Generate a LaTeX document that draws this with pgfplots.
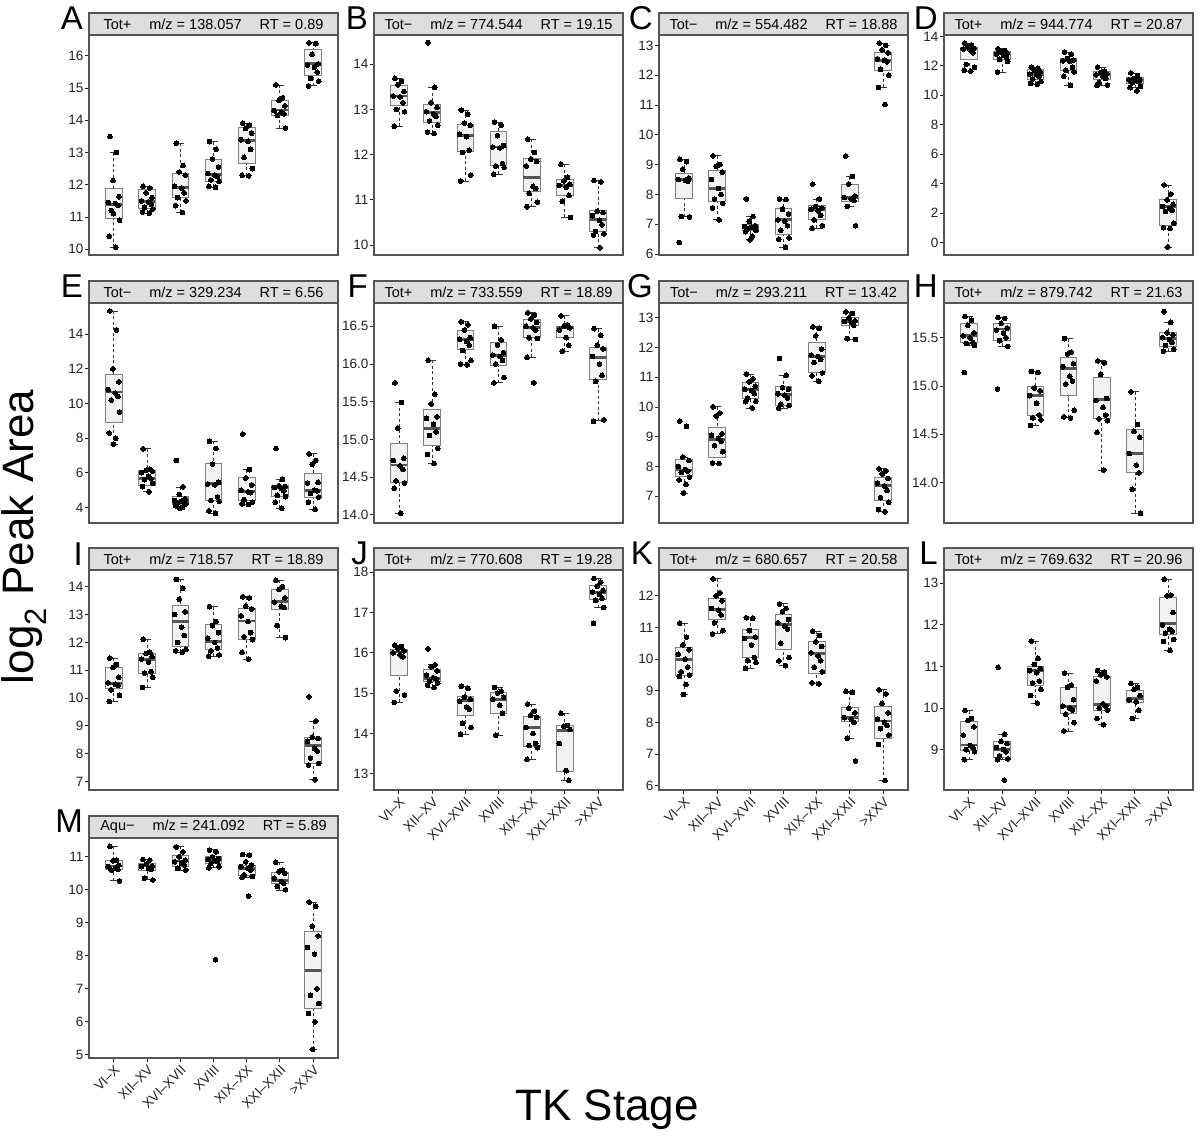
\documentclass[border=0pt]{standalone}
\usepackage{fontspec}
\setmainfont{Liberation Sans}
\usepackage{pgfplots}
\pgfplotsset{compat=1.18}
\usepgfplotslibrary{statistics}

\definecolor{stripfill}{HTML}{DEDEDE}
\definecolor{framecol}{HTML}{555555}
\definecolor{boxfill}{HTML}{F2F2F2}
\definecolor{boxline}{HTML}{808080}
\definecolor{medcol}{HTML}{555555}
\definecolor{wskcol}{HTML}{333333}
\definecolor{tickcol}{HTML}{222222}

\newcommand\tickfont{\fontsize{13.5}{16}\selectfont}
\newcommand\hdrfont{\fontsize{14.5}{17}\selectfont}
\newcommand\letfont{\fontsize{33}{38}\selectfont}
\newcommand\bigfont{\fontsize{44}{50}\selectfont}

\tikzset{
  wskline/.style={draw=wskcol, line width=0.8pt, dash pattern=on 3pt off 2.5pt},
  wskcap/.style={draw=wskcol, line width=0.8pt, solid},
}

\pgfplotsset{
  boxplot/draw direction=y,
  boxplot/box extend=0.5,
  boxplot/whisker extend=0.25,
  boxplot/every box/.style={draw=boxline, fill=boxfill, line width=0.9pt},
  boxplot/every median/.style={draw=medcol, line width=2.8pt},
  boxplot/draw/lower whisker/.code={%
    \draw[wskline] (boxplot box cs:\pgfplotsboxplotvalue{lower whisker},0.5) -- (boxplot box cs:\pgfplotsboxplotvalue{lower quartile},0.5);
    \draw[wskcap] (boxplot whisker cs:\pgfplotsboxplotvalue{lower whisker},0) -- (boxplot whisker cs:\pgfplotsboxplotvalue{lower whisker},1);
  },
  boxplot/draw/upper whisker/.code={%
    \draw[wskline] (boxplot box cs:\pgfplotsboxplotvalue{upper whisker},0.5) -- (boxplot box cs:\pgfplotsboxplotvalue{upper quartile},0.5);
    \draw[wskcap] (boxplot whisker cs:\pgfplotsboxplotvalue{upper whisker},0) -- (boxplot whisker cs:\pgfplotsboxplotvalue{upper whisker},1);
  },
  bxs/.style={solid, draw=boxline},
  pts/.style={only marks, mark=*, mark size=2.4pt, mark options={fill=black, draw=black, line width=0pt}},
  panel/.style={
    scale only axis, width=249pt, height=220pt,
    anchor=south west, clip=false,
    xmin=0.25, xmax=7.75, xtick=\empty,
    tick align=outside, tick pos=left,
    major tick length=4pt,
    every tick/.style={draw=tickcol, line width=0.9pt},
    axis line style={draw=framecol, line width=1.3pt},
    yticklabel style={font=\tickfont, text=tickcol, inner sep=1.5pt},
    /pgf/number format/assume math mode=true,
  },
  bottomx/.style={
    xtick={1,...,7},
    xticklabels={VI–X,XII–XV,XVI–XVII,XVIII,XIX–XX,XXI–XXII,>XXV},
    xticklabel style={rotate=45, anchor=north east, font=\tickfont, text=tickcol, inner sep=1.5pt},
  },
}

\newcommand\bx[6]{\addplot[bxs, boxplot prepared={draw position=#1, lower whisker=#2, lower quartile=#3, median=#4, upper quartile=#5, upper whisker=#6}] coordinates {};}

\newcommand\hdr[4]{%
  \draw[fill=stripfill, draw=framecol, line width=1.3pt] (rel axis cs:0,1) rectangle ([yshift=22pt]rel axis cs:1,1);
  \node[font=\hdrfont, inner sep=0pt] at ([yshift=11pt]rel axis cs:0.5,1) {#2\hspace{18pt}m/z = #3\hspace{18pt}RT = #4};
  \node[font=\letfont, anchor=base east, inner sep=0pt] at ([xshift=-6pt,yshift=5pt]rel axis cs:0,1) {#1};
}

\begin{document}
\begin{tikzpicture}
\useasboundingbox (0pt,0pt) rectangle (1200pt,1136pt);

% ---------------- A ----------------
\begin{axis}[panel, at={(89pt,881pt)}, ymin=9.82, ymax=16.65, ytick={10,...,16}]
\bx{1}{10.06}{10.96}{11.38}{11.89}{13.0}
\bx{2}{11.12}{11.27}{11.47}{11.86}{11.95}
\bx{3}{11.14}{11.60}{11.91}{12.36}{13.29}
\bx{4}{11.92}{12.11}{12.31}{12.79}{13.34}
\bx{5}{12.28}{12.67}{13.37}{13.78}{13.91}
\bx{6}{13.76}{14.15}{14.32}{14.63}{15.1}
\bx{7}{15.07}{15.38}{15.77}{16.21}{16.41}
\addplot[pts] coordinates {(0.88,13.5)(1.08,13.0)(0.97,12.13)(1.15,11.63)(0.83,11.45)(1.04,11.42)(1.12,11.36)(0.92,11.2)(1.17,10.9)(0.86,10.4)(1.06,10.06)(0.99,11.1)
(1.88,11.95)(2.08,11.9)(1.97,11.75)(2.15,11.6)(1.83,11.5)(2.04,11.47)(2.12,11.4)(1.92,11.3)(2.17,11.25)(1.86,11.15)(2.06,11.12)
(2.88,13.29)(3.08,12.6)(2.97,12.4)(3.15,12.3)(2.83,11.95)(3.04,11.9)(3.12,11.75)(2.92,11.6)(3.17,11.5)(2.86,11.35)(3.06,11.14)
(3.88,13.34)(4.08,13.1)(3.97,12.8)(4.15,12.55)(3.83,12.35)(4.04,12.3)(4.12,12.25)(3.92,12.15)(4.17,12.1)(3.86,11.95)(4.06,11.92)
(4.88,13.91)(5.08,13.85)(4.97,13.75)(5.15,13.6)(4.83,13.4)(5.04,13.35)(5.12,13.1)(4.92,12.85)(5.17,12.5)(4.86,12.3)(5.06,12.28)
(5.88,15.1)(6.08,14.7)(5.97,14.62)(6.15,14.45)(5.83,14.3)(6.04,14.25)(6.12,14.2)(5.92,14.15)(6.17,13.76)
(6.88,16.41)(7.08,16.38)(6.97,16.05)(7.15,15.75)(6.83,15.72)(7.04,15.65)(7.12,15.5)(6.92,15.3)(7.17,15.22)(6.86,15.07)};
\hdr{A}{Tot+}{138.057}{0.89}
\end{axis}

% ---------------- B ----------------
\begin{axis}[panel, at={(374pt,881pt)}, ymin=9.78, ymax=14.65, ytick={10,...,14}]
\bx{1}{12.63}{13.08}{13.30}{13.54}{13.69}
\bx{2}{12.47}{12.72}{12.94}{13.12}{13.49}
\bx{3}{11.42}{12.07}{12.43}{12.68}{12.99}
\bx{4}{11.57}{11.76}{12.17}{12.51}{12.72}
\bx{5}{10.85}{11.18}{11.49}{11.92}{12.34}
\bx{6}{10.61}{11.09}{11.32}{11.45}{11.79}
\bx{7}{9.94}{10.30}{10.57}{10.76}{11.43}
\addplot[pts] coordinates {(0.88,13.69)(1.08,13.62)(0.97,13.55)(1.15,13.4)(0.83,13.3)(1.04,13.28)(1.12,13.15)(0.92,13.0)(1.17,12.95)(0.86,12.63)
(1.88,14.48)(2.08,13.49)(1.97,13.15)(2.15,13.05)(1.83,12.95)(2.04,12.9)(2.12,12.85)(1.92,12.75)(2.17,12.65)(1.86,12.5)(2.06,12.47)
(2.88,12.99)(3.08,12.9)(2.97,12.7)(3.15,12.65)(2.83,12.45)(3.04,12.4)(3.12,12.1)(2.92,12.05)(3.17,11.55)(2.86,11.42)
(3.88,12.72)(4.08,12.65)(3.97,12.42)(4.15,12.2)(3.83,12.17)(4.04,12.15)(4.12,11.8)(3.92,11.75)(4.17,11.72)(3.86,11.57)
(4.88,12.34)(5.08,12.05)(4.97,11.9)(5.15,11.85)(4.83,11.75)(5.04,11.3)(5.12,11.25)(4.92,11.15)(5.17,10.95)(4.86,10.85)
(5.88,11.79)(6.08,11.5)(5.97,11.42)(6.15,11.35)(5.83,11.32)(6.04,11.28)(6.12,11.1)(5.92,10.97)(6.17,10.61)
(6.88,11.43)(7.08,11.4)(6.97,10.75)(7.15,10.72)(6.83,10.65)(7.04,10.55)(7.12,10.45)(6.92,10.3)(7.17,10.25)(6.86,10.22)(7.06,9.94)};
\hdr{B}{Tot−}{774.544}{19.15}
\end{axis}

% ---------------- C ----------------
\begin{axis}[panel, at={(659pt,881pt)}, ymin=5.97, ymax=13.35, ytick={6,...,13}]
\bx{1}{7.26}{7.85}{8.51}{8.71}{9.18}
\bx{2}{7.15}{7.76}{8.19}{8.79}{9.30}
\bx{3}{6.48}{6.79}{6.89}{7.0}{7.26}
\bx{4}{6.23}{6.67}{7.15}{7.54}{7.85}
\bx{5}{6.87}{7.15}{7.50}{7.63}{7.85}
\bx{6}{7.59}{7.78}{7.91}{8.34}{8.6}
\bx{7}{11.59}{12.16}{12.5}{12.78}{13.08}
\addplot[pts] coordinates {(0.88,9.18)(1.08,9.1)(0.97,8.85)(1.15,8.55)(0.83,8.5)(1.04,8.48)(1.12,8.45)(0.92,7.26)(1.17,7.25)(0.86,6.39)
(1.88,9.30)(2.08,9.0)(1.97,8.95)(2.15,8.75)(1.83,8.5)(2.04,8.2)(2.12,8.0)(1.92,7.85)(2.17,7.7)(1.86,7.55)(2.06,7.15)
(2.88,7.85)(3.08,7.26)(2.97,7.1)(3.15,6.95)(2.83,6.92)(3.04,6.9)(3.12,6.88)(2.92,6.85)(3.17,6.8)(2.86,6.75)(3.06,6.6)(2.99,6.48)
(3.88,7.85)(4.08,7.83)(3.97,7.5)(4.15,7.35)(3.83,7.15)(4.04,7.1)(4.12,6.95)(3.92,6.8)(4.17,6.55)(3.86,6.5)(4.06,6.23)
(4.88,8.35)(5.08,7.85)(4.97,7.6)(5.15,7.55)(4.83,7.5)(5.04,7.45)(5.12,7.3)(4.92,7.15)(5.17,6.95)(4.86,6.87)
(5.88,9.29)(6.08,8.6)(5.97,8.35)(6.15,7.95)(5.83,7.9)(6.04,7.85)(6.12,7.8)(5.92,7.6)(6.17,6.95)
(6.88,13.08)(7.08,13.0)(6.97,12.85)(7.15,12.75)(6.83,12.55)(7.04,12.5)(7.12,12.45)(6.92,12.2)(7.17,12.0)(6.86,11.59)(7.06,11.02)};
\hdr{C}{Tot−}{554.482}{18.88}
\end{axis}

% ---------------- D ----------------
\begin{axis}[panel, at={(944pt,881pt)}, ymin=-0.85, ymax=14.1, ytick={0,2,...,14}]
\bx{1}{11.65}{12.44}{13.16}{13.28}{13.55}
\bx{2}{11.58}{12.42}{12.83}{13.01}{13.16}
\bx{3}{10.75}{11.11}{11.43}{11.76}{11.92}
\bx{4}{10.68}{11.72}{12.37}{12.53}{12.94}
\bx{5}{10.68}{11.11}{11.43}{11.63}{11.92}
\bx{6}{10.52}{10.84}{11.02}{11.2}{11.52}
\bx{7}{-0.31}{1.15}{2.44}{2.94}{3.91}
\addplot[pts] coordinates {(0.88,13.55)(1.08,13.4)(0.97,13.3)(1.15,13.2)(0.83,13.15)(1.04,13.1)(1.12,12.9)(0.92,12.1)(1.17,11.9)(0.86,11.7)(1.06,11.65)
(1.88,13.16)(2.08,13.05)(1.97,12.95)(2.15,12.85)(1.83,12.8)(2.04,12.7)(2.12,12.6)(1.92,12.45)(2.17,12.3)(1.86,11.58)
(2.88,11.92)(3.08,11.85)(2.97,11.7)(3.15,11.6)(2.83,11.45)(3.04,11.4)(3.12,11.3)(2.92,11.1)(3.17,10.95)(2.86,10.8)(3.06,10.75)
(3.88,12.94)(4.08,12.8)(3.97,12.5)(4.15,12.4)(3.83,12.35)(4.04,12.3)(4.12,11.9)(3.92,11.7)(4.17,11.6)(3.86,11.3)(4.06,10.68)
(4.88,11.92)(5.08,11.65)(4.97,11.55)(5.15,11.45)(4.83,11.4)(5.04,11.3)(5.12,11.15)(4.92,10.9)(5.17,10.7)(4.86,10.68)
(5.88,11.52)(6.08,11.35)(5.97,11.15)(6.15,11.1)(5.83,11.05)(6.04,11.0)(6.12,10.95)(5.92,10.85)(6.17,10.6)(5.86,10.52)(6.06,10.3)
(6.88,3.91)(7.08,3.3)(6.97,2.9)(7.15,2.6)(6.83,2.45)(7.04,2.3)(7.12,2.2)(6.92,2.1)(7.17,1.3)(6.86,1.0)(7.06,0.95)(6.99,-0.31)};
\hdr{D}{Tot+}{944.774}{20.87}
\end{axis}

% ---------------- E ----------------
\begin{axis}[panel, at={(89pt,613pt)}, ymin=3.1, ymax=15.8, ytick={4,6,...,14}]
\bx{1}{7.66}{8.90}{10.66}{11.67}{15.34}
\bx{2}{4.9}{5.28}{5.66}{6.14}{7.38}
\bx{3}{3.94}{4.19}{4.32}{4.61}{5.18}
\bx{4}{3.66}{4.42}{5.37}{6.52}{7.82}
\bx{5}{4.17}{4.42}{4.94}{5.72}{6.18}
\bx{6}{3.95}{4.62}{5.12}{5.25}{5.62}
\bx{7}{3.89}{4.57}{4.99}{5.95}{7.09}
\addplot[pts] coordinates {(0.88,15.34)(1.08,14.25)(0.97,12.0)(1.15,11.25)(0.83,10.8)(1.04,10.6)(1.12,10.4)(0.92,10.2)(1.17,9.5)(0.86,8.3)(1.06,8.0)(0.99,7.66)
(1.88,7.38)(2.08,6.2)(1.97,6.15)(2.15,6.1)(1.83,6.0)(2.04,5.8)(2.12,5.65)(1.92,5.6)(2.17,5.4)(1.86,5.2)(2.06,4.9)
(2.88,6.71)(3.08,5.18)(2.97,4.75)(3.15,4.5)(2.83,4.4)(3.04,4.35)(3.12,4.3)(2.92,4.25)(3.17,4.2)(2.86,4.1)(3.06,4.0)(2.99,3.94)
(3.88,7.82)(4.08,7.4)(3.97,6.5)(4.15,5.45)(3.83,5.35)(4.04,5.3)(4.12,4.6)(3.92,4.4)(4.17,4.35)(3.86,3.8)(4.06,3.66)
(4.88,8.24)(5.08,6.18)(4.97,5.7)(5.15,5.3)(4.83,5.0)(5.04,4.9)(5.12,4.85)(4.92,4.45)(5.17,4.3)(4.86,4.2)(5.06,4.17)
(5.88,7.4)(6.08,5.62)(5.97,5.25)(6.15,5.2)(5.83,5.15)(6.04,5.1)(6.12,4.95)(5.92,4.7)(6.17,4.62)(5.86,4.3)(6.06,3.95)
(6.88,7.09)(7.08,6.7)(6.97,6.5)(7.15,5.45)(6.83,5.4)(7.04,5.0)(7.12,4.95)(6.92,4.8)(7.17,4.6)(6.86,4.3)(7.06,3.89)};
\hdr{E}{Tot−}{329.234}{6.56}
\end{axis}

% ---------------- F ----------------
\begin{axis}[panel, at={(374pt,613pt)}, ymin=13.89, ymax=16.81, ytick={14,14.5,...,16.5}, yticklabels={14.0,14.5,15.0,15.5,16.0,16.5}]
\bx{1}{14.02}{14.43}{14.66}{14.95}{15.49}
\bx{2}{14.68}{14.92}{15.14}{15.40}{16.05}
\bx{3}{15.99}{16.2}{16.33}{16.44}{16.56}
\bx{4}{15.75}{15.98}{16.11}{16.28}{16.5}
\bx{5}{16.09}{16.35}{16.49}{16.59}{16.68}
\bx{6}{16.17}{16.35}{16.49}{16.5}{16.64}
\bx{7}{15.25}{15.80}{16.09}{16.22}{16.47}
\addplot[pts] coordinates {(0.88,15.75)(1.08,15.49)(0.97,15.15)(1.15,14.75)(0.83,14.72)(1.04,14.65)(1.12,14.6)(0.92,14.45)(1.17,14.42)(0.86,14.35)(1.06,14.02)
(1.88,16.05)(2.08,15.6)(1.97,15.47)(2.15,15.3)(1.83,15.28)(2.04,15.2)(2.12,15.1)(1.92,15.05)(2.17,14.88)(1.86,14.8)(2.06,14.68)
(2.88,16.56)(3.08,16.52)(2.97,16.45)(3.15,16.35)(2.83,16.33)(3.04,16.3)(3.12,16.25)(2.92,16.18)(3.17,16.05)(2.86,16.0)(3.06,15.99)
(3.88,16.5)(4.08,16.32)(3.97,16.25)(4.15,16.15)(3.83,16.12)(4.04,16.1)(4.12,16.05)(3.92,16.0)(4.17,15.82)(3.86,15.75)
(4.88,16.68)(5.08,16.65)(4.97,16.6)(5.15,16.55)(4.83,16.5)(5.04,16.48)(5.12,16.45)(4.92,16.35)(5.17,16.34)(4.86,16.09)(5.06,15.75)
(5.88,16.64)(6.08,16.52)(5.97,16.5)(6.15,16.48)(5.83,16.45)(6.04,16.35)(6.12,16.25)(5.92,16.17)
(6.88,16.47)(7.08,16.38)(6.97,16.25)(7.15,16.2)(6.83,16.1)(7.04,16.0)(7.12,15.85)(6.92,15.77)(7.17,15.26)(6.86,15.24)};
\hdr{F}{Tot+}{733.559}{18.89}
\end{axis}

% ---------------- G ----------------
\begin{axis}[panel, at={(659pt,613pt)}, ymin=6.1, ymax=13.5, ytick={7,...,13}]
\bx{1}{7.11}{7.65}{7.88}{8.23}{8.32}
\bx{2}{8.10}{8.32}{8.92}{9.33}{10.01}
\bx{3}{9.97}{10.30}{10.59}{10.84}{11.11}
\bx{4}{9.96}{10.07}{10.43}{10.68}{11.07}
\bx{5}{10.87}{11.18}{11.69}{12.16}{12.7}
\bx{6}{12.27}{12.74}{12.88}{13.03}{13.2}
\bx{7}{6.48}{6.85}{7.35}{7.62}{7.92}
\addplot[pts] coordinates {(0.88,9.53)(1.08,9.35)(0.97,8.32)(1.15,8.2)(0.83,8.0)(1.04,7.9)(1.12,7.85)(0.92,7.8)(1.17,7.65)(0.86,7.55)(1.06,7.4)(0.99,7.11)
(1.88,10.01)(2.08,9.8)(1.97,9.7)(2.15,9.1)(1.83,9.05)(2.04,8.95)(2.12,8.85)(1.92,8.7)(2.17,8.5)(1.86,8.12)(2.06,8.1)
(2.88,11.11)(3.08,10.95)(2.97,10.85)(3.15,10.7)(2.83,10.6)(3.04,10.55)(3.12,10.45)(2.92,10.3)(3.17,10.2)(2.86,10.18)(3.06,9.97)
(3.88,11.63)(4.08,11.07)(3.97,10.65)(4.15,10.6)(3.83,10.45)(4.04,10.4)(4.12,10.3)(3.92,10.1)(4.17,10.05)(3.86,9.96)
(4.88,12.7)(5.08,12.65)(4.97,12.4)(5.15,11.95)(4.83,11.75)(5.04,11.7)(5.12,11.6)(4.92,11.5)(5.17,11.15)(4.86,11.05)(5.06,10.87)
(5.88,13.2)(6.08,13.15)(5.97,13.0)(6.15,12.9)(5.83,12.88)(6.04,12.85)(6.12,12.75)(5.92,12.3)(6.17,12.27)
(6.88,7.92)(7.08,7.85)(6.97,7.75)(7.15,7.6)(6.83,7.45)(7.04,7.35)(7.12,7.2)(6.92,6.95)(7.17,6.8)(6.86,6.55)(7.06,6.48)};
\hdr{G}{Tot−}{293.211}{13.42}
\end{axis}

% ---------------- H ----------------
\begin{axis}[panel, at={(944pt,613pt)}, ymin=13.58, ymax=15.86, ytick={14,14.5,15,15.5}, yticklabels={14.0,14.5,15.0,15.5}]
\bx{1}{15.42}{15.45}{15.52}{15.65}{15.72}
\bx{2}{15.41}{15.47}{15.59}{15.65}{15.71}
\bx{3}{14.59}{14.69}{14.9}{14.99}{15.15}
\bx{4}{14.67}{14.90}{15.18}{15.30}{15.49}
\bx{5}{14.13}{14.66}{14.86}{15.09}{15.26}
\bx{6}{13.68}{14.10}{14.3}{14.55}{14.94}
\bx{7}{15.36}{15.41}{15.49}{15.55}{15.66}
\addplot[pts] coordinates {(0.88,15.72)(1.08,15.68)(0.97,15.63)(1.15,15.55)(0.83,15.52)(1.04,15.5)(1.12,15.45)(0.92,15.44)(1.17,15.42)(0.86,15.14)
(1.88,15.71)(2.08,15.7)(1.97,15.65)(2.15,15.6)(1.83,15.58)(2.04,15.55)(2.12,15.5)(1.92,15.47)(2.17,15.41)(1.86,14.97)
(2.88,15.15)(3.08,15.14)(2.97,14.98)(3.15,14.95)(2.83,14.9)(3.04,14.82)(3.12,14.7)(2.92,14.67)(3.17,14.65)(2.86,14.59)
(3.88,15.49)(4.08,15.35)(3.97,15.33)(4.15,15.23)(3.83,15.2)(4.04,15.1)(4.12,15.05)(3.92,15.02)(4.17,14.75)(3.86,14.68)(4.06,14.67)
(4.88,15.26)(5.08,15.24)(4.97,15.12)(5.15,14.87)(4.83,14.85)(5.04,14.78)(5.12,14.7)(4.92,14.66)(5.17,14.64)(4.86,14.52)(5.06,14.13)
(5.88,14.94)(6.08,14.6)(5.97,14.53)(6.15,14.47)(5.83,14.3)(6.04,14.18)(6.12,14.1)(5.92,13.93)(6.17,13.68)
(6.88,15.77)(7.08,15.66)(6.97,15.55)(7.15,15.53)(6.83,15.5)(7.04,15.48)(7.12,15.45)(6.92,15.42)(7.17,15.38)(6.86,15.36)};
\hdr{H}{Tot+}{879.742}{21.63}
\end{axis}

% ---------------- I ----------------
\begin{axis}[panel, at={(89pt,346pt)}, ymin=6.7, ymax=14.6, ytick={7,...,14}]
\bx{1}{9.88}{10.35}{10.53}{11.09}{11.44}
\bx{2}{10.38}{10.87}{11.38}{11.61}{12.12}
\bx{3}{11.65}{11.85}{12.75}{13.34}{14.26}
\bx{4}{11.5}{11.73}{12.03}{12.64}{13.28}
\bx{5}{11.4}{12.11}{12.77}{13.22}{13.64}
\bx{6}{12.17}{13.2}{13.46}{13.91}{14.23}
\bx{7}{7.07}{7.64}{8.29}{8.58}{9.18}
\addplot[pts] coordinates {(0.88,11.44)(1.08,11.2)(0.97,11.1)(1.15,10.75)(0.83,10.55)(1.04,10.5)(1.12,10.45)(0.92,10.3)(1.17,10.1)(0.86,9.88)
(1.88,12.12)(2.08,11.65)(1.97,11.6)(2.15,11.5)(1.83,11.4)(2.04,11.3)(2.12,10.95)(1.92,10.9)(2.17,10.75)(1.86,10.38)
(2.88,14.26)(3.08,13.95)(2.97,13.55)(3.15,13.1)(2.83,13.0)(3.04,12.55)(3.12,12.25)(2.92,12.0)(3.17,11.75)(2.86,11.7)(3.06,11.65)
(3.88,13.28)(4.08,12.75)(3.97,12.6)(4.15,12.35)(3.83,12.15)(4.04,12.0)(4.12,11.8)(3.92,11.7)(4.17,11.55)(3.86,11.5)
(4.88,13.64)(5.08,13.6)(4.97,13.3)(5.15,13.2)(4.83,12.95)(5.04,12.75)(5.12,12.35)(4.92,12.2)(5.17,12.1)(4.86,11.65)(5.06,11.4)
(5.88,14.23)(6.08,14.0)(5.97,13.9)(6.15,13.6)(5.83,13.45)(6.04,13.3)(6.12,13.25)(5.92,12.6)(6.17,12.17)
(6.88,10.05)(7.08,9.18)(6.97,8.6)(7.15,8.55)(6.83,8.45)(7.04,8.2)(7.12,8.1)(6.92,7.85)(7.17,7.65)(6.86,7.6)(7.06,7.07)};
\hdr{I}{Tot+}{718.57}{18.89}
\end{axis}

% ---------------- J ----------------
\begin{axis}[panel, bottomx, at={(374pt,346pt)}, ymin=12.6, ymax=18.05, ytick={13,...,18}]
\bx{1}{14.77}{15.45}{16.02}{16.08}{16.19}
\bx{2}{15.14}{15.28}{15.37}{15.59}{15.7}
\bx{3}{13.98}{14.45}{14.81}{14.91}{15.17}
\bx{4}{13.96}{14.5}{14.85}{15.02}{15.14}
\bx{5}{13.36}{13.69}{14.14}{14.42}{14.73}
\bx{6}{12.84}{13.06}{14.08}{14.2}{14.5}
\bx{7}{17.12}{17.33}{17.49}{17.67}{17.84}
\addplot[pts] coordinates {(0.88,16.19)(1.08,16.15)(0.97,16.1)(1.15,16.05)(0.83,16.0)(1.04,15.95)(1.12,15.9)(0.92,15.05)(1.17,14.95)(0.86,14.77)
(1.88,16.1)(2.08,15.7)(1.97,15.65)(2.15,15.55)(1.83,15.45)(2.04,15.38)(2.12,15.35)(1.92,15.3)(2.17,15.25)(1.86,15.2)(2.06,15.14)
(2.88,15.17)(3.08,15.12)(2.97,14.9)(3.15,14.85)(2.83,14.8)(3.04,14.65)(3.12,14.6)(2.92,14.25)(3.17,14.15)(2.86,13.98)
(3.88,15.14)(4.08,15.05)(3.97,15.0)(4.15,14.9)(3.83,14.85)(4.04,14.7)(4.12,14.5)(3.92,13.96)
(4.88,14.73)(5.08,14.55)(4.97,14.45)(5.15,14.4)(4.83,14.15)(5.04,14.0)(5.12,13.75)(4.92,13.7)(5.17,13.65)(4.86,13.36)
(5.88,14.5)(6.08,14.2)(5.97,14.18)(6.15,14.1)(5.83,13.75)(6.04,13.08)(6.12,12.84)
(6.88,17.84)(7.08,17.75)(6.97,17.65)(7.15,17.55)(6.83,17.5)(7.04,17.45)(7.12,17.35)(6.92,17.3)(7.17,17.12)(6.86,16.73)};
\hdr{J}{Tot+}{770.608}{19.28}
\end{axis}

% ---------------- K ----------------
\begin{axis}[panel, bottomx, at={(659pt,346pt)}, ymin=5.86, ymax=12.82, ytick={6,...,12}]
\bx{1}{8.88}{9.48}{10.0}{10.38}{11.14}
\bx{2}{10.8}{11.24}{11.58}{11.92}{12.54}
\bx{3}{9.71}{10.05}{10.69}{10.93}{11.31}
\bx{4}{9.79}{10.31}{11.09}{11.42}{11.75}
\bx{5}{9.22}{9.56}{10.17}{10.55}{10.88}
\bx{6}{7.5}{8.02}{8.16}{8.46}{8.98}
\bx{7}{6.16}{7.5}{8.04}{8.51}{9.03}
\addplot[pts] coordinates {(0.88,11.14)(1.08,10.7)(0.97,10.45)(1.15,10.3)(0.83,10.15)(1.04,10.0)(1.12,9.75)(0.92,9.6)(1.17,9.5)(0.86,9.45)(1.06,9.2)(0.99,8.88)
(1.88,12.54)(2.08,12.1)(1.97,12.0)(2.15,11.85)(1.83,11.6)(2.04,11.55)(2.12,11.4)(1.92,11.15)(2.17,10.9)(1.86,10.8)
(2.88,11.31)(3.08,11.3)(2.97,10.9)(3.15,10.7)(2.83,10.65)(3.04,10.45)(3.12,10.05)(2.92,9.95)(3.17,9.9)(2.86,9.71)
(3.88,11.75)(4.08,11.6)(3.97,11.5)(4.15,11.25)(3.83,11.15)(4.04,11.05)(4.12,10.95)(3.92,10.5)(4.17,10.05)(3.86,9.95)(4.06,9.79)
(4.88,10.88)(5.08,10.75)(4.97,10.55)(5.15,10.4)(4.83,10.2)(5.04,10.1)(5.12,9.95)(4.92,9.75)(5.17,9.6)(4.86,9.25)(5.06,9.22)
(5.88,8.98)(6.08,8.95)(5.97,8.45)(6.15,8.3)(5.83,8.15)(6.04,8.1)(6.12,8.0)(5.92,7.5)(6.17,6.78)
(6.88,9.03)(7.08,8.9)(6.97,8.6)(7.15,8.3)(6.83,8.1)(7.04,8.0)(7.12,7.9)(6.92,7.8)(7.17,7.6)(6.86,7.3)(7.06,6.16)};
\hdr{K}{Tot+}{680.657}{20.58}
\end{axis}

% ---------------- L ----------------
\begin{axis}[panel, bottomx, at={(944pt,346pt)}, ymin=8.03, ymax=13.32, ytick={9,...,13}]
\bx{1}{8.76}{8.98}{9.11}{9.68}{9.94}
\bx{2}{8.76}{8.82}{9.0}{9.19}{9.37}
\bx{3}{10.12}{10.55}{10.9}{11.0}{11.61}
\bx{4}{9.45}{9.86}{10.04}{10.49}{10.84}
\bx{5}{9.6}{9.94}{10.08}{10.76}{10.9}
\bx{6}{9.75}{10.14}{10.23}{10.43}{10.59}
\bx{7}{11.39}{11.77}{12.03}{12.67}{13.1}
\addplot[pts] coordinates {(0.88,9.94)(1.08,9.75)(0.97,9.7)(1.15,9.55)(0.83,9.35)(1.04,9.1)(1.12,9.05)(0.92,9.0)(1.17,8.95)(0.86,8.76)
(1.88,10.98)(2.08,9.37)(1.97,9.2)(2.15,9.15)(1.83,9.05)(2.04,9.0)(2.12,8.95)(1.92,8.85)(2.17,8.78)(1.86,8.76)(2.06,8.27)
(2.88,11.61)(3.08,11.2)(2.97,11.05)(3.15,10.95)(2.83,10.9)(3.04,10.85)(3.12,10.65)(2.92,10.6)(3.17,10.45)(2.86,10.3)(3.06,10.12)
(3.88,10.84)(4.08,10.55)(3.97,10.5)(4.15,10.2)(3.83,10.05)(4.04,10.0)(4.12,9.95)(3.92,9.85)(4.17,9.65)(3.86,9.45)
(4.88,10.9)(5.08,10.87)(4.97,10.8)(5.15,10.75)(4.83,10.65)(5.04,10.1)(5.12,10.05)(4.92,10.0)(5.17,9.95)(4.86,9.75)(5.06,9.6)
(5.88,10.59)(6.08,10.5)(5.97,10.45)(6.15,10.3)(5.83,10.2)(6.04,10.15)(6.12,9.95)(5.92,9.75)
(6.88,13.1)(7.08,12.72)(6.97,12.7)(7.15,12.3)(6.83,12.0)(7.04,11.9)(7.12,11.85)(6.92,11.8)(7.17,11.65)(6.86,11.6)(7.06,11.39)};
\hdr{L}{Tot+}{769.632}{20.96}
\end{axis}

% ---------------- M ----------------
\begin{axis}[panel, bottomx, at={(89pt,78pt)}, ymin=4.9, ymax=11.57, ytick={5,...,11}]
\bx{1}{10.27}{10.62}{10.72}{10.89}{11.32}
\bx{2}{10.32}{10.6}{10.72}{10.79}{10.92}
\bx{3}{10.6}{10.72}{10.87}{11.04}{11.32}
\bx{4}{10.67}{10.79}{10.92}{11.0}{11.22}
\bx{5}{10.37}{10.44}{10.65}{10.75}{11.07}
\bx{6}{9.99}{10.19}{10.27}{10.52}{10.84}
\bx{7}{5.16}{6.41}{7.55}{8.75}{9.63}
\addplot[pts] coordinates {(0.88,11.32)(1.08,10.9)(0.97,10.88)(1.15,10.75)(0.83,10.7)(1.04,10.65)(1.12,10.62)(0.92,10.6)(1.17,10.27)
(1.88,10.92)(2.08,10.9)(1.97,10.78)(2.15,10.72)(1.83,10.7)(2.04,10.65)(2.12,10.62)(1.92,10.35)(2.17,10.3)
(2.88,11.3)(3.08,11.15)(2.97,11.0)(3.15,10.9)(2.83,10.85)(3.04,10.8)(3.12,10.75)(2.92,10.65)(3.17,10.6)
(3.88,11.2)(4.08,11.15)(3.97,11.0)(4.15,10.95)(3.83,10.92)(4.04,10.9)(4.12,10.85)(3.92,10.8)(4.17,10.7)(3.86,10.67)(4.06,7.88)
(4.88,11.07)(5.08,11.05)(4.97,10.85)(5.15,10.75)(4.83,10.7)(5.04,10.65)(5.12,10.6)(4.92,10.45)(5.17,10.4)(4.86,10.37)(5.06,9.81)
(5.88,10.84)(6.08,10.6)(5.97,10.55)(6.15,10.5)(5.83,10.35)(6.04,10.25)(6.12,10.2)(5.92,10.1)(6.17,10.0)
(6.88,9.63)(7.08,9.5)(6.97,8.9)(7.15,8.6)(6.83,8.25)(7.04,8.05)(7.12,7.0)(6.92,6.8)(7.17,6.55)(6.86,6.25)(7.06,6.0)(6.99,5.16)};
\hdr{M}{Aqu−}{241.092}{5.89}
\end{axis}

\node[rotate=90, font=\bigfont] at (24pt,599pt) {log\textsubscript{2} Peak Area};
\node[font=\bigfont] at (607pt,26pt) {TK Stage};
\end{tikzpicture}
\end{document}
